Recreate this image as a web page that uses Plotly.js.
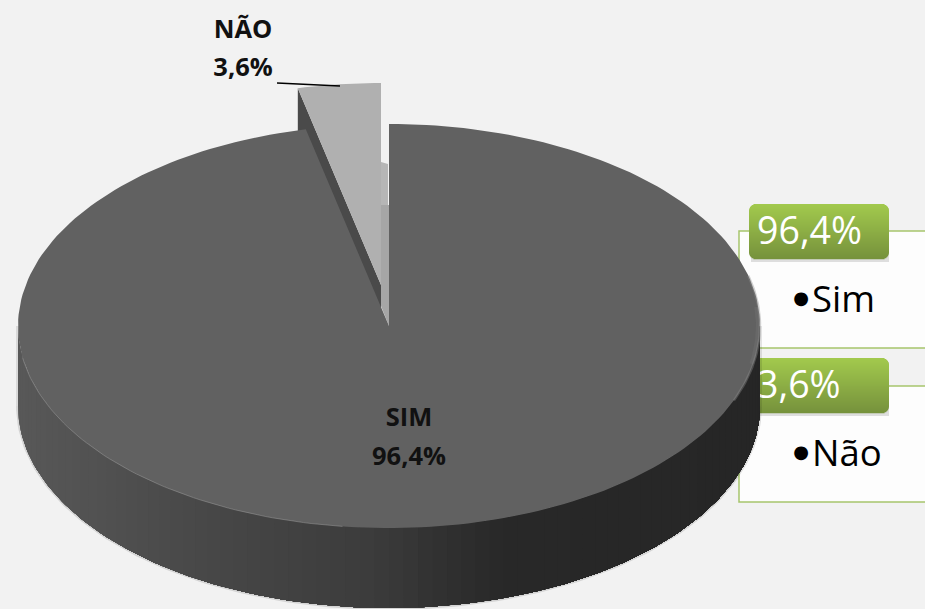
<!DOCTYPE html>
<html><head><meta charset="utf-8">
<script src="https://cdn.plot.ly/plotly-3.0.1.min.js"></script>
<style>html,body{margin:0;padding:0;background:#f2f2f2}</style></head>
<body><div id="chart" style="width:925px;height:609px"></div>
<script>
// Data
const categories = ["Sim", "Não"];
const shares = [96.4, 3.6];

// Geometry of the tilted pie, in chart units
const cx = 389, cy = 326, rx = 371, ry = 202, depth = 80;
const explodeX = -8, explodeY = -41;
const fmt = v => v.toFixed(1).replace(".", ",") + "%";
const total = shares.reduce((a, b) => a + b, 0);
const simEnd = shares[0] / total * 2 * Math.PI;
const pt = (a, ox = 0, oy = 0) => [cx + ox + rx * Math.sin(a), cy + oy - ry * Math.cos(a)];
const range = (a0, a1, n) => Array.from({length: n + 1}, (_, i) => a0 + (a1 - a0) * i / n);
const grey = (stops, x) => {
  for (let i = 1; i < stops.length; i++) if (x <= stops[i][0]) {
    const t = (x - stops[i - 1][0]) / (stops[i][0] - stops[i - 1][0]);
    const v = Math.round(stops[i - 1][1] + t * (stops[i][1] - stops[i - 1][1]));
    return `rgb(${v},${v},${v})`;
  }
  const v = stops[stops.length - 1][1]; return `rgb(${v},${v},${v})`;
};
const poly = (pts, color) => ({
  type: "scatter", mode: "lines", x: pts.map(p => p[0]), y: pts.map(p => p[1]),
  fill: "toself", fillcolor: color, line: {color, width: 0},
  hoverinfo: "skip", showlegend: false
});
const line = (pts, color, width) => ({
  type: "scatter", mode: "lines", x: pts.map(p => p[0]), y: pts.map(p => p[1]),
  line: {color, width}, hoverinfo: "skip", showlegend: false
});
const text = (x, y, s, size, color, pos, weight, family) => ({
  type: "scatter", mode: "text", x: [x], y: [y], text: [s], textposition: pos,
  textfont: {family: family || "Open Sans", size, color, weight: weight || 400},
  hoverinfo: "skip", showlegend: false, cliponaxis: false
});

const traces = [];

// Legend texts sit under the pie
const legendRows = [{badge: 204, box: 231, boxEnd: 348, item: 303, bullet: 299.5},
                    {badge: 358, box: 386, boxEnd: 502, item: 457, bullet: 453.5}];
categories.forEach((c, i) => {
  const r = legendRows[i];
  traces.push(text(757, r.badge + 31, fmt(shares[i]), 37.5, "#ffffff", "middle right"));
  traces.push(text(812, r.item, c, 36.5, "#000000", "middle right"));
  traces.push(text(801, r.bullet, "●", 18, "#000000", "middle center", 400, "DejaVu Sans"));
});

// Exploded slice (Não)
const nA = range(simEnd, 2 * Math.PI, 12);
const nTop = nA.map(a => pt(a, explodeX, explodeY));
const nCentre = [cx + explodeX, cy + explodeY];
const nLeft = pt(simEnd, explodeX, explodeY);
traces.push(poly([nLeft, nCentre, [nCentre[0], nCentre[1] + depth], [nLeft[0], nLeft[1] + depth]], "#4a4a4a"));
traces.push(poly([nCentre, ...nTop], "#b0b0b0"));
// Inner wall seen in the gap
const gapX0 = cx + explodeX, gapX1 = cx - 1;
const gapTop = cy + explodeY - ry + depth, gapStep = gapTop + 42;
traces.push(poly([[gapX0, gapTop - 1], [gapX1, gapTop + 1], [gapX1, gapStep], [gapX0, gapStep]], "#b6b6b6"));
traces.push(poly([[gapX0, gapStep], [cx, gapStep], [cx, cy], [gapX0, cy - 20]], "#a6a6a6"));

// Soft outline of the disc body
const wallAngles = range(Math.PI / 2, 3 * Math.PI / 2, 160);
traces.push(line(wallAngles.map(a => pt(a, 0, depth)), "rgba(0,0,0,0.12)", 4));
traces.push(line([pt(Math.PI / 2), pt(Math.PI / 2, 0, depth)], "rgba(0,0,0,0.10)", 4));
traces.push(line([pt(3 * Math.PI / 2), pt(3 * Math.PI / 2, 0, depth)], "rgba(0,0,0,0.10)", 4));

// Body of the disc, shaded left to right; each band is painted over the rest
const wallStops = [[18, 88], [150, 76], [300, 64], [380, 58], [450, 46], [500, 40], [760, 38]];
const sorted = wallAngles.slice().reverse(); // from the left edge to the right edge
for (let i = 0; i < sorted.length - 1; i += 2) {
  const rest = sorted.slice(i);
  const upper = rest.map(a => pt(a));
  const lower = rest.map(a => pt(a, 0, depth)).reverse();
  traces.push(poly([...upper, ...lower], grey(wallStops, pt(sorted[i])[0])));
}

// Top of the big slice (Sim)
const sA = range(0, simEnd, 240);
traces.push(poly([[cx, cy], ...sA.map(a => pt(a))], "#616161"));
// Rim highlights
traces.push(line(range(Math.PI * 1.04, Math.PI * 1.45, 60).map(a => pt(a)), "rgba(150,150,150,0.55)", 1));
traces.push(line(range(Math.PI * 0.42, Math.PI * 0.62, 40).map(a => pt(a)), "rgba(140,140,140,0.40)", 2.5));
traces.push(line(range(Math.PI * 0.47, Math.PI * 0.56, 30).map(a => pt(a, -2, 0)), "rgba(140,140,140,0.18)", 4));

// Data labels
const labelRows = [{x: 409, y0: 420, y1: 459}, {x: 243, y0: 32, y1: 70}];
categories.forEach((c, i) => {
  const r = labelRows[i];
  traces.push(text(r.x, r.y0, c.toUpperCase(), 25.5, "#111111", "middle center", 700));
  traces.push(text(r.x, r.y1, fmt(shares[i]), 25.5, "#111111", "middle center", 700));
});

// Legend panels as layout shapes
const shapes = [];
const green = "#a6c56c";
legendRows.forEach(r => {
  shapes.push({type: "rect", layer: "below", x0: 739, x1: 930, y0: r.box, y1: r.boxEnd,
    fillcolor: "#fdfdfd", line: {color: green, width: 1.5}});
  const top = r.badge, h = 55, left = 749, right = 889, rad = 7;
  shapes.push({type: "rect", layer: "below", x0: left + 2, x1: right, y0: top + 4, y1: top + h + 3,
    fillcolor: "rgba(0,0,0,0.12)", line: {width: 0}});
  for (let k = 0; k < h; k++) {
    const t = k / (h - 1);
    const dy = k < rad ? rad - k - 0.5 : (k > h - 1 - rad ? k - (h - 1 - rad) - 0.5 : 0);
    const inset = dy > 0 ? rad - Math.sqrt(Math.max(0, rad * rad - dy * dy)) : 0;
    const R = Math.round(162 + (118 - 162) * t), G = Math.round(201 + (146 - 201) * t), B = Math.round(77 + (60 - 77) * t);
    shapes.push({type: "rect", layer: "below", x0: left + inset, x1: right - inset, y0: top + k, y1: top + k + 1.2,
      fillcolor: `rgb(${R},${G},${B})`, line: {width: 0}});
  }
});
// Leader line of the small slice
shapes.push({type: "line", layer: "above", x0: 277, y0: 83, x1: 340, y1: 86, line: {color: "#000000", width: 1.6}});

Plotly.newPlot("chart", traces, {
  width: 925, height: 609, margin: {l: 0, r: 0, t: 0, b: 0},
  paper_bgcolor: "#f2f2f2", plot_bgcolor: "#f2f2f2", showlegend: false,
  xaxis: {range: [0, 925], visible: false, fixedrange: true},
  yaxis: {range: [609, 0], visible: false, fixedrange: true},
  shapes
}, {displayModeBar: false, staticPlot: true});
</script></body></html>
